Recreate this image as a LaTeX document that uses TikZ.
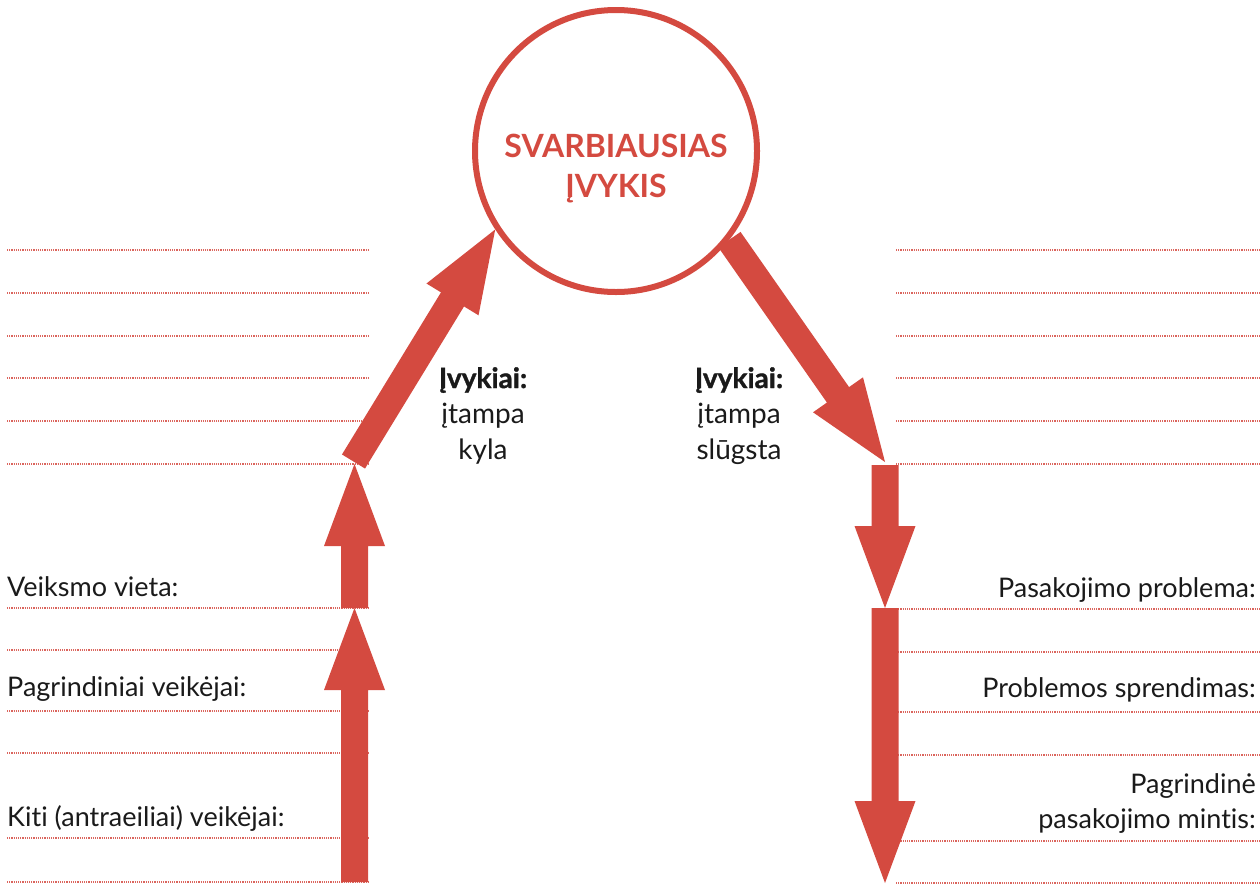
\documentclass[tikz,border=0pt]{standalone}
\usepackage{fontspec}
\setmainfont{Lato}[Ligatures={NoCommon,NoRequired}]
\usetikzlibrary{calc}
\definecolor{ared}{RGB}{212,74,64}
\definecolor{ink}{RGB}{26,26,26}
\newcommand\blockarrow[2]{%
  \coordinate (BAh) at ($(#2)!82pt!(#1)$);
  \fill[ared] ($(#1)!13.5pt!90:(#2)$) -- ($(BAh)!13.5pt!90:(#2)$) -- ($(BAh)!30.5pt!90:(#2)$) -- (#2)
    -- ($(BAh)!30.5pt!-90:(#2)$) -- ($(BAh)!13.5pt!-90:(#2)$) -- ($(#1)!13.5pt!-90:(#2)$) -- cycle;}
\newcommand\heavytext[1]{{\bfseries\addfontfeatures{FakeBold=1.2}#1}}
\begin{document}
\begin{tikzpicture}[x=1pt,y=-1pt,
  dotline/.style={ared!85, line width=1.1pt, dash pattern=on 1.1pt off 1.1pt},
  lbl/.style={font=\fontsize{27}{33}\selectfont, text=ink, inner sep=0pt},
  mid/.style={font=\fontsize{28}{35.5}\selectfont, text=ink, inner sep=0pt, align=center, anchor=base},
  title/.style={font=\bfseries\fontsize{32}{40}\selectfont, text=ared, inner sep=0pt, align=center, anchor=base}]
\useasboundingbox (0,0) rectangle (1260,884);
% dotted writing lines
\foreach \y in {250,293,336,378,421,464,608,650,711,753,838,882}
  \draw[dotline] (7,\y) -- (368,\y);
\foreach \y in {250,293,336,378,421,464,609,652,712,755,841,883}
  \draw[dotline] (896,\y) -- (1260,\y);
% central event circle
\node[circle, draw=ared, line width=6pt, minimum size=282pt, inner sep=0pt] (ev) at (616,151) {};
\node[title] (evt) at (616,197) {SVARBIAUSIAS\\ĮVYKIS};
% arrow end points
\coordinate (L0) at (354.5,882);
\coordinate (L1) at (354.5,608);
\coordinate (L2) at (354.5,464);
\coordinate (L2t) at (353.5,461.5);
\coordinate (R0) at (885,465);
\coordinate (R1) at (885,608);
\coordinate (R2) at (885,883);
\coordinate (Rd) at (885,462);
% arrows
\blockarrow{L0}{L1}
\blockarrow{L1}{L2}
\blockarrow{L2t}{ev.213.7}
\blockarrow{ev.-38.2}{Rd}
\blockarrow{R0}{R1}
\blockarrow{R1}{R2}
% middle texts
\node[mid] (upt) at (483,459) {\heavytext{Įvykiai:}\\įtampa\\kyla};
\node[mid] (downt) at (739,459) {\heavytext{Įvykiai:}\\įtampa\\slūgsta};
% left labels
\node[lbl, anchor=base west] (veiks) at (7,596) {Veiksmo vieta:};
\node[lbl, anchor=base west] (pagr) at (7,696) {Pagrindiniai veikėjai:};
\node[lbl, anchor=base west] (kiti) at (7,826) {Kiti (antraeiliai) veikėjai:};
% right labels
\node[lbl, anchor=base east] (prob) at (1256,597) {Pasakojimo problema:};
\node[lbl, anchor=base east] (spr) at (1256,697) {Problemos sprendimas:};
\node[lbl, anchor=base east] (mint1) at (1256,793) {Pagrindinė};
\node[lbl, anchor=base east] (mint2) at (1256,828) {pasakojimo mintis:};
\end{tikzpicture}
\end{document}
